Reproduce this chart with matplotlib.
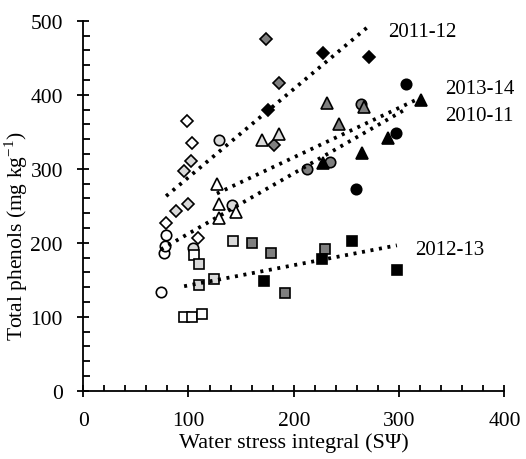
import numpy as np
import matplotlib
matplotlib.use('Agg')
import matplotlib.pyplot as plt

plt.rcParams['font.family'] = ['Liberation Serif', 'DejaVu Serif']
plt.rcParams['mathtext.fontset'] = 'custom'
plt.rcParams['mathtext.rm'] = 'Liberation Serif'

# shades used for the four groups inside each season
shade_names = ['white', 'light', 'dark', 'black']
shade_colors = {'white': '#ffffff', 'light': '#d9d9d9', 'dark': '#7f7f7f', 'black': '#000000'}

# 2010-11 (circles)
x_1011 = {'white': [73.8, 76.6, 77.9, 78.8], 'light': [104.8, 129.2, 141.2],
          'dark': [212.4, 234.6, 264.3], 'black': [259.0, 297.0, 306.7]}
y_1011 = {'white': [134, 186, 195, 210], 'light': [193, 339, 251],
          'dark': [300, 309, 387], 'black': [273, 349, 414]}

# 2011-12 (diamonds)
x_1112 = {'white': [78.8, 98.5, 103.2, 108.9], 'light': [88.3, 95.9, 99.4, 102.3],
          'dark': [173.5, 181.7, 185.8], 'black': [176.0, 227.6, 271.6]}
y_1112 = {'white': [227, 364, 335, 206], 'light': [243, 297, 253, 310],
          'dark': [475, 332, 416], 'black': [379, 456, 451]}

# 2012-13 (squares)
x_1213 = {'white': [95.9, 103.5, 113.0, 105.0], 'light': [109.8, 110.5, 123.8, 142.1],
          'dark': [160.5, 178.2, 191.2, 229.8], 'black': [171.9, 226.7, 255.2, 297.9]}
y_1213 = {'white': [100, 100, 104, 183], 'light': [171, 143, 151, 203],
          'dark': [199, 186, 132, 191], 'black': [148, 178, 203, 163]}

# 2013-14 (triangles)
x_1314 = {'white': [127.0, 129.2, 129.2, 145.0], 'light': [170.3, 185.8],
          'dark': [232.0, 243.4, 266.2], 'black': [228.2, 264.7, 289.6, 321.0]}
y_1314 = {'white': [280, 253, 233, 241], 'light': [339, 347],
          'dark': [389, 361, 383], 'black': [308, 321, 341, 393]}

seasons = ['2010-11', '2011-12', '2012-13', '2013-14']
season_x = [x_1011, x_1112, x_1213, x_1314]
season_y = [y_1011, y_1112, y_1213, y_1314]
markers = ['o', 'D', 's', '^']
msizes = [7.5, 6.0, 7.5, 8.5]

# label positions (data units)
label_x = [344, 290, 315, 344]
label_y = [372, 485, 191, 408]

fig = plt.figure(figsize=(5.26, 4.6), dpi=100)
ax = fig.add_axes([0.158, 0.1485, 0.801, 0.804])

for name, xs, ys, m, ms, lx, ly in zip(seasons, season_x, season_y, markers, msizes, label_x, label_y):
    allx, ally = [], []
    for sh in shade_names:
        ax.plot(xs[sh], ys[sh], linestyle='none', marker=m, markersize=ms,
                markerfacecolor=shade_colors[sh], markeredgecolor='black',
                markeredgewidth=1.2, zorder=3)
        allx += xs[sh]
        ally += ys[sh]
    allx = np.array(allx)
    ally = np.array(ally)
    # linear fit over the season's points
    k, b = np.polyfit(allx, ally, 1)
    xx = np.array([allx.min(), allx.max()])
    ax.plot(xx, k * xx + b, color='black', linestyle=(0, (0.8, 1.5)), linewidth=2.7, zorder=4)
    ax.text(lx, ly, name, fontsize=15, ha='left', va='center')

ax.set_xlim(0, 400)
ax.set_ylim(0, 500)
ax.set_xticks([0, 100, 200, 300, 400])
ax.set_yticks([0, 100, 200, 300, 400, 500])
ax.set_xticks(np.arange(0, 401, 20), minor=True)
ax.set_yticks(np.arange(0, 501, 20), minor=True)
ax.tick_params(which='major', direction='inout', length=9, width=1.3, labelsize=15.5, pad=10)
ax.tick_params(axis='x', which='minor', direction='in', length=4, width=1.3)
ax.tick_params(axis='y', which='minor', direction='in', length=5, width=1.3)

for s in ['top', 'right']:
    ax.spines[s].set_visible(False)
for s in ['left', 'bottom']:
    ax.spines[s].set_linewidth(1.3)

ax.set_xlabel('Water stress integral (S\u03a8)', fontsize=16)
ax.set_ylabel('Total phenols (mg kg$^{-1}$)', fontsize=15.5)
ax.xaxis.set_label_coords(0.5, -0.112)
ax.yaxis.set_label_coords(-0.126, 0.42)

fig.savefig('out.png', dpi=100)
